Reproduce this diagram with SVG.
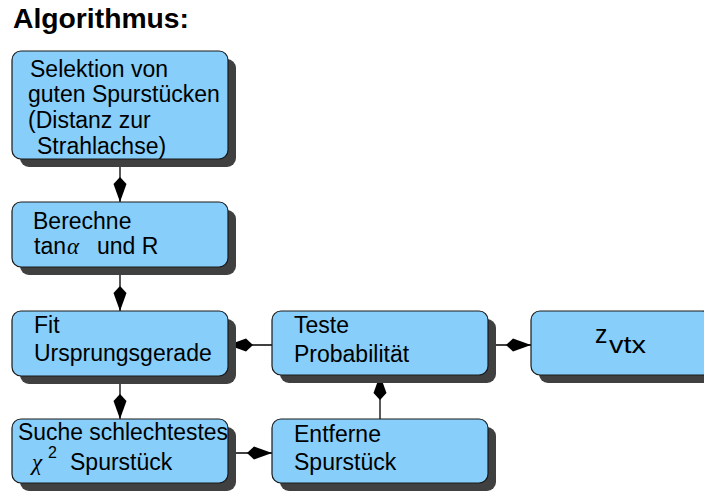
<svg xmlns="http://www.w3.org/2000/svg" width="704" height="492" viewBox="0 0 704 492">
<style>
.shadow{fill:#404040;}
.box{fill:#87CEFA;stroke:#1a1a1a;stroke-width:1.2;}
.t{font-family:"Liberation Sans",Arial,sans-serif;font-size:23px;fill:#000;}
.sym{font-family:"Liberation Serif","DejaVu Serif",serif;font-style:italic;font-size:23px;fill:#000;}
.title{font-family:"Liberation Sans",Arial,sans-serif;font-size:27px;font-weight:bold;fill:#000;}
.c{stroke:#000;stroke-width:1.3;fill:none;marker-end:url(#kite);}
</style>
<defs>
<marker id="kite" markerUnits="userSpaceOnUse" markerWidth="30" markerHeight="16" viewBox="-26 -8 27 16" refX="0" refY="0" orient="auto">
<path d="M0,0 L-18,-6.5 L-25,0 L-18,6.5 Z" fill="#000"/>
</marker>
</defs>
<rect width="704" height="492" fill="#fff"/>
<text class="title" x="13" y="28" textLength="176" lengthAdjust="spacingAndGlyphs">Algorithmus:</text>

<g id="connectors">
<line class="c" x1="120" y1="159" x2="120" y2="202"/>
<line class="c" x1="120" y1="267" x2="120" y2="311"/>
<line class="c" x1="120" y1="376" x2="120" y2="419"/>
<line class="c" x1="272" y1="345" x2="228" y2="345"/>
<line class="c" x1="228" y1="453" x2="272" y2="453"/>
<line class="c" x1="380" y1="419" x2="380" y2="375"/>
<line class="c" x1="488" y1="345" x2="531" y2="345"/>
</g>

<g id="n1">
<rect class="shadow" x="20" y="59" width="216" height="108" rx="9"/>
<rect class="box" x="12" y="51" width="216" height="108" rx="9"/>
<text class="t" x="30" y="77">Selektion von</text>
<text class="t" x="28" y="102">guten Spurstücken</text>
<text class="t" x="28" y="128">(Distanz zur</text>
<text class="t" x="37" y="154">Strahlachse)</text>
</g>

<g id="n2">
<rect class="shadow" x="20" y="210" width="216" height="65" rx="9"/>
<rect class="box" x="12" y="202" width="216" height="65" rx="9"/>
<text class="t" x="33" y="229">Berechne</text>
<text class="t" x="34" y="254">tan</text>
<text class="sym" x="67" y="254">α</text>
<text class="t" x="97" y="254">und R</text>
</g>

<g id="n3">
<rect class="shadow" x="20" y="319" width="216" height="65" rx="9"/>
<rect class="box" x="12" y="311" width="216" height="65" rx="9"/>
<text class="t" x="34" y="333">Fit</text>
<text class="t" x="34" y="361">Ursprungsgerade</text>
</g>

<g id="n4">
<rect class="shadow" x="20" y="427" width="216" height="64" rx="9"/>
<rect class="box" x="12" y="419" width="216" height="64" rx="9"/>
<text class="t" x="18" y="440" textLength="210" lengthAdjust="spacingAndGlyphs">Suche schlechtestes</text>
<text class="sym" x="32" y="470">χ</text>
<text class="t" x="48" y="458" style="font-size:16px">2</text>
<text class="t" x="70" y="470">Spurstück</text>
</g>

<g id="n5">
<rect class="shadow" x="280" y="319" width="216" height="64" rx="9"/>
<rect class="box" x="272" y="311" width="216" height="64" rx="9"/>
<text class="t" x="294" y="333">Teste</text>
<text class="t" x="294" y="362">Probabilität</text>
</g>

<g id="n6">
<rect class="shadow" x="280" y="427" width="216" height="64" rx="9"/>
<rect class="box" x="272" y="419" width="216" height="64" rx="9"/>
<text class="t" x="294" y="442">Entferne</text>
<text class="t" x="294" y="470">Spurstück</text>
</g>

<g id="n7">
<rect class="shadow" x="539" y="319" width="180" height="64" rx="9"/>
<rect class="box" x="531" y="311" width="180" height="64" rx="9"/>
<text class="t" x="595" y="343" style="font-size:25px">z</text>
<text class="t" x="609" y="353" style="font-size:24px" textLength="37" lengthAdjust="spacingAndGlyphs">vtx</text>
</g>
</svg>
